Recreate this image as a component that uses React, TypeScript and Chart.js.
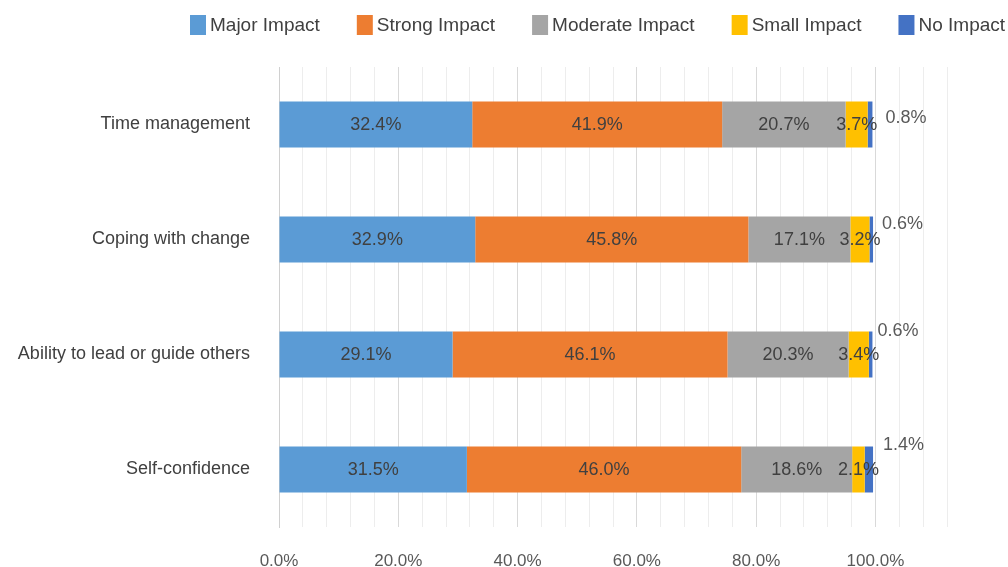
import React, { useEffect, useRef } from "react";
import { Chart, registerables } from "chart.js";

Chart.register(...registerables);

const categories = ["Time management", "Coping with change", "Ability to lead or guide others", "Self-confidence"];
const seriesNames = ["Major Impact", "Strong Impact", "Moderate Impact", "Small Impact", "No Impact"];
const majorImpact = [32.4, 32.9, 29.1, 31.5];
const strongImpact = [41.9, 45.8, 46.1, 46.0];
const moderateImpact = [20.7, 17.1, 20.3, 18.6];
const smallImpact = [3.7, 3.2, 3.4, 2.1];
const noImpact = [0.8, 0.6, 0.6, 1.4];
const xTickLabels = [0, 20, 40, 60, 80, 100];

const colors = ["#5B9BD5", "#ED7D31", "#A5A5A5", "#FFC000", "#4472C4"];
const FONT = "'Liberation Sans', Arial, sans-serif";

// manual offsets of the outside "No Impact" labels (like the hand-placed labels of the original)
const outsideLabelOffsets = [
  { dx: 13, dy: -6 },
  { dx: 9, dy: -15 },
  { dx: 5, dy: -23 },
  { dx: 10, dy: -24 },
];

const customLegend = {
  id: "customLegend",
  afterDraw(chart: any) {
    const ctx = chart.ctx;
    ctx.save();
    ctx.font = `19px ${FONT}`;
    ctx.textBaseline = "middle";
    ctx.textAlign = "left";
    let x = 190;
    const cy = 25;
    chart.data.datasets.forEach((ds: any) => {
      ctx.fillStyle = ds.backgroundColor;
      ctx.fillRect(x, cy - 10, 16, 20);
      ctx.fillStyle = "#404040";
      ctx.fillText(ds.label, x + 20, cy + 1);
      const w = ctx.measureText(ds.label).width;
      x += 20 + w + 37;
    });
    ctx.restore();
  },
};

const barLabels = {
  id: "barLabels",
  afterDatasetsDraw(chart: any) {
    const ctx = chart.ctx;
    ctx.save();
    ctx.font = `18px ${FONT}`;
    ctx.textBaseline = "middle";
    chart.data.datasets.forEach((ds: any, di: number) => {
      const meta = chart.getDatasetMeta(di);
      meta.data.forEach((bar: any, i: number) => {
        const v = ds.data[i];
        const txt = v.toFixed(1) + "%";
        if (di < 4) {
          ctx.textAlign = "center";
          ctx.fillStyle = "#404040";
          ctx.fillText(txt, (bar.x + bar.base) / 2, bar.y + 1);
        } else {
          const off = outsideLabelOffsets[i];
          ctx.textAlign = "left";
          ctx.fillStyle = "#595959";
          ctx.fillText(txt, bar.x + off.dx, bar.y + off.dy);
        }
      });
    });
    ctx.restore();
  },
};

export default function App() {
  const ref = useRef<HTMLCanvasElement>(null);
  useEffect(() => {
    const series = [majorImpact, strongImpact, moderateImpact, smallImpact, noImpact];
    const chart = new Chart(ref.current!, {
      type: "bar",
      data: {
        labels: categories,
        datasets: series.map((d, i) => ({
          label: seriesNames[i],
          data: d,
          backgroundColor: colors[i],
          borderWidth: 0,
          categoryPercentage: 0.8,
          barPercentage: 0.5,
        })),
      },
      options: {
        indexAxis: "y",
        responsive: false,
        animation: false,
        layout: { padding: { top: 67, right: 61, left: 0, bottom: 0 } },
        plugins: {
          legend: { display: false },
          tooltip: { enabled: false },
        },
        scales: {
          x: {
            stacked: true,
            min: 0,
            max: 112,
            afterFit: (s: any) => {
              s.height = 40;
            },
            ticks: {
              stepSize: 4,
              autoSkip: false,
              maxRotation: 0,
              padding: 24,
              color: "#595959",
              font: { family: FONT, size: 17 },
              callback: (v: any) => {
                const n = Number(v);
                return xTickLabels.includes(n) ? n.toFixed(1) + "%" : "";
              },
            },
            grid: {
              drawTicks: false,
              color: (c: any) => (c.tick && c.tick.value % 20 === 0 ? "#D9D9D9" : "#EDEDED"),
              lineWidth: 1,
            },
            border: { display: false },
          },
          y: {
            stacked: true,
            afterFit: (s: any) => {
              s.width = 279;
            },
            ticks: {
              padding: 29,
              color: "#404040",
              font: { family: FONT, size: 18 },
            },
            grid: { display: false, drawTicks: false },
            border: { display: true, color: "#D0D0D0", width: 1 },
          },
        },
      },
      plugins: [customLegend, barLabels],
    });
    return () => chart.destroy();
  }, []);
  return (
    <div style={{ position: "absolute", left: 0, top: 0, width: 1008, height: 567, background: "#fff" }}>
      <canvas ref={ref} width={1008} height={567} />
    </div>
  );
}
